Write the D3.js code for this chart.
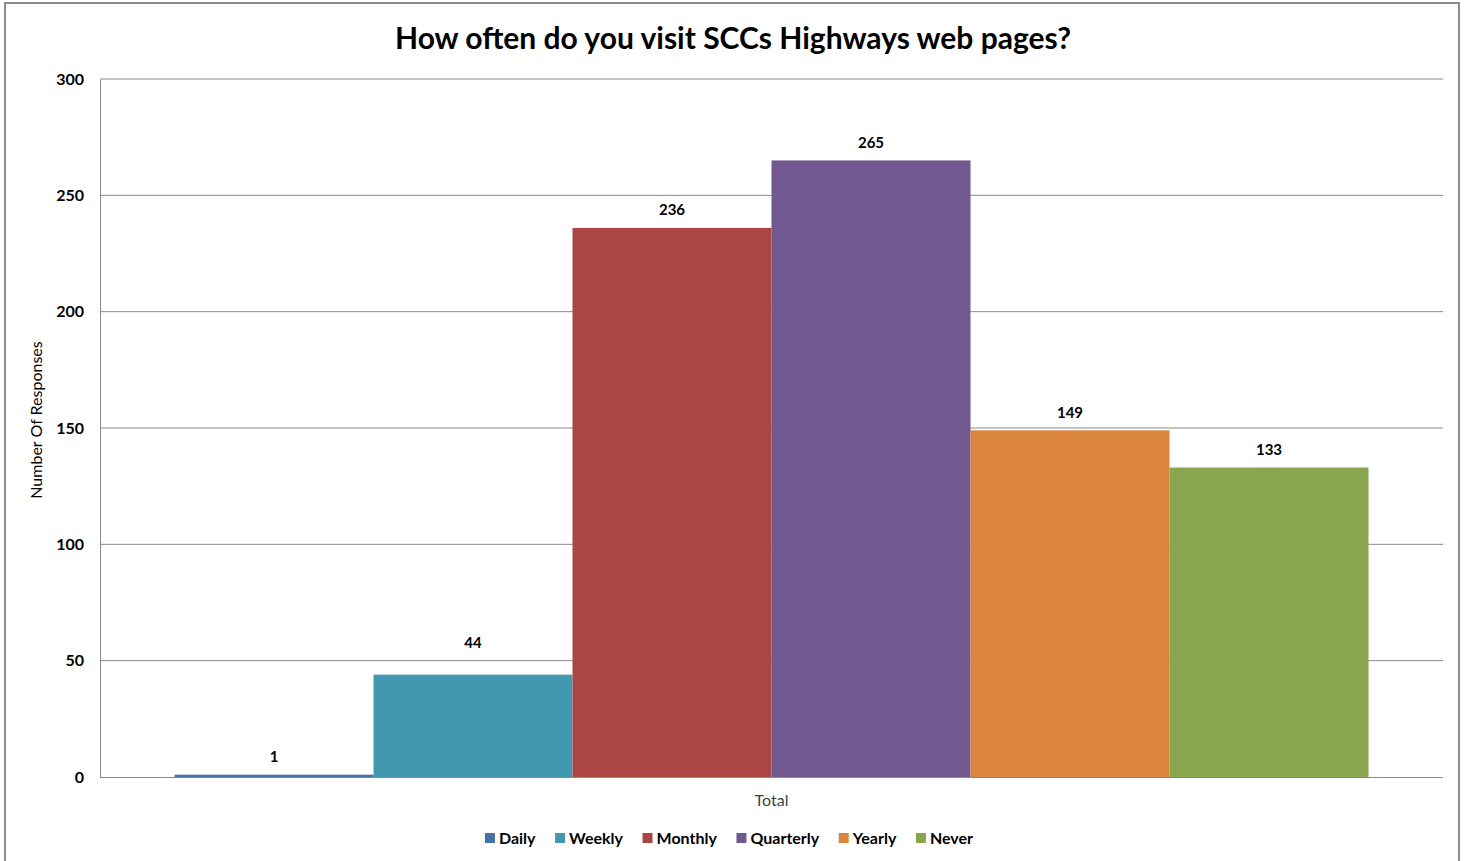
<!DOCTYPE html>
<html>
<head>
<meta charset="utf-8">
<script src="https://cdn.jsdelivr.net/npm/d3@7"></script>
<style>
  body { margin: 0; background: #fff; }
  svg { display: block; font-family: Lato, "Open Sans", sans-serif; }
</style>
</head>
<body>
<div id="chart"></div>
<script>
'use strict';

// chart data
let categories = ['Total'];
let seriesNames = ['Daily', 'Weekly', 'Monthly', 'Quarterly', 'Yearly', 'Never'];
let seriesValues = [1, 44, 236, 265, 149, 133];
let seriesColors = ['#4572a7', '#4198af', '#aa4643', '#71588f', '#db843d', '#89a54e'];
let yTicks = [0, 50, 100, 150, 200, 250, 300];

let w = 1469, h = 861;
let margin = {top: 79, right: 26, bottom: 84, left: 100};

let svg = d3.select('#chart').append('svg')
    .attr('width', w).attr('height', h);

// outer frame
svg.append('rect')
    .attr('x', 5).attr('y', 3)
    .attr('width', 1454).attr('height', 870)
    .attr('fill', '#fff').attr('stroke', '#8c8c8c').attr('stroke-width', 2);

let x0 = d3.scaleBand().domain(categories)
    .range([margin.left, w - margin.right])
    .paddingOuter(0.0624);
let x1 = d3.scaleBand().domain(seriesNames)
    .range([0, x0.bandwidth()]);
let y = d3.scaleLinear().domain([0, 300])
    .range([h - margin.bottom, margin.top]);

// gridlines
svg.append('g')
    .selectAll('line')
    .data(yTicks.filter(d => d > 0))
    .join('line')
    .attr('x1', margin.left).attr('x2', w - margin.right)
    .attr('y1', d => y(d)).attr('y2', d => y(d))
    .attr('stroke', '#8a8a8a').attr('stroke-width', 1);

// y axis
let yAxis = svg.append('g')
    .attr('transform', `translate(${margin.left},0)`)
    .call(d3.axisLeft(y).tickValues(yTicks).tickSize(0).tickPadding(16));
yAxis.select('.domain').attr('stroke', '#8a8a8a');
yAxis.selectAll('text')
    .attr('font-family', 'Lato, sans-serif')
    .attr('font-size', 16).attr('font-weight', 'bold').attr('fill', '#000');

// bars
let group = svg.append('g').selectAll('g')
    .data(categories)
    .join('g')
    .attr('transform', d => `translate(${x0(d)},0)`);

group.selectAll('rect')
    .data(seriesNames.map((s, i) => ({name: s, value: seriesValues[i], color: seriesColors[i]})))
    .join('rect')
    .attr('x', d => x1(d.name))
    .attr('width', x1.bandwidth())
    .attr('y', d => y(d.value))
    .attr('height', d => y(0) - y(d.value))
    .attr('fill', d => d.color);

// labels sit ~18px above the bar, nudged up when they'd sit on a gridline
function labelY(v) {
    let cy = y(v) - 18;
    let hit = yTicks.some(t => Math.abs(y(t) - cy) < 8);
    return hit ? cy - 14 : cy;
}

group.selectAll('text')
    .data(seriesNames.map((s, i) => ({name: s, value: seriesValues[i]})))
    .join('text')
    .attr('x', d => x1(d.name) + x1.bandwidth() / 2)
    .attr('y', d => labelY(d.value))
    .attr('dy', '0.35em')
    .attr('text-anchor', 'middle')
    .attr('font-size', 15).attr('font-weight', 'bold')
    .text(d => d.value);

// x axis
let xAxis = svg.append('g')
    .attr('transform', `translate(0,${y(0)})`)
    .call(d3.axisBottom(x0).tickSize(0).tickPadding(18).tickSizeOuter(0));
xAxis.select('.domain').attr('stroke', '#8a8a8a')
    .attr('d', `M${margin.left},0.5H${w - margin.right}`);
xAxis.selectAll('text')
    .attr('font-family', 'Lato, sans-serif')
    .attr('font-size', 16).attr('fill', '#404040');

// title
svg.append('text')
    .attr('x', 733).attr('y', 49)
    .attr('text-anchor', 'middle')
    .attr('font-size', 30).attr('font-weight', 'bold')
    .text('How often do you visit SCCs Highways web pages?');

// y axis title
svg.append('text')
    .attr('transform', `translate(42,${(margin.top + h - margin.bottom) / 2 - 8}) rotate(-90)`)
    .attr('text-anchor', 'middle')
    .attr('font-size', 16)
    .text('Number Of Responses');

// legend
let legend = svg.append('g').attr('transform', 'translate(0,838)');
let items = legend.selectAll('g')
    .data(seriesNames)
    .join('g');
items.append('rect')
    .attr('y', -5).attr('width', 10).attr('height', 10)
    .attr('fill', (d, i) => seriesColors[i]);
items.append('text')
    .attr('x', 14).attr('dy', '0.35em')
    .attr('font-size', 16).attr('font-weight', 'bold')
    .text(d => d);

let pos = [], cur = 0;
items.each(function() {
    pos.push(cur);
    cur += this.getBBox().width + 19;
});
let total = cur - 19;
let start = 729 - total / 2;
items.attr('transform', (d, i) => `translate(${start + pos[i]},0)`);
</script>
</body>
</html>
